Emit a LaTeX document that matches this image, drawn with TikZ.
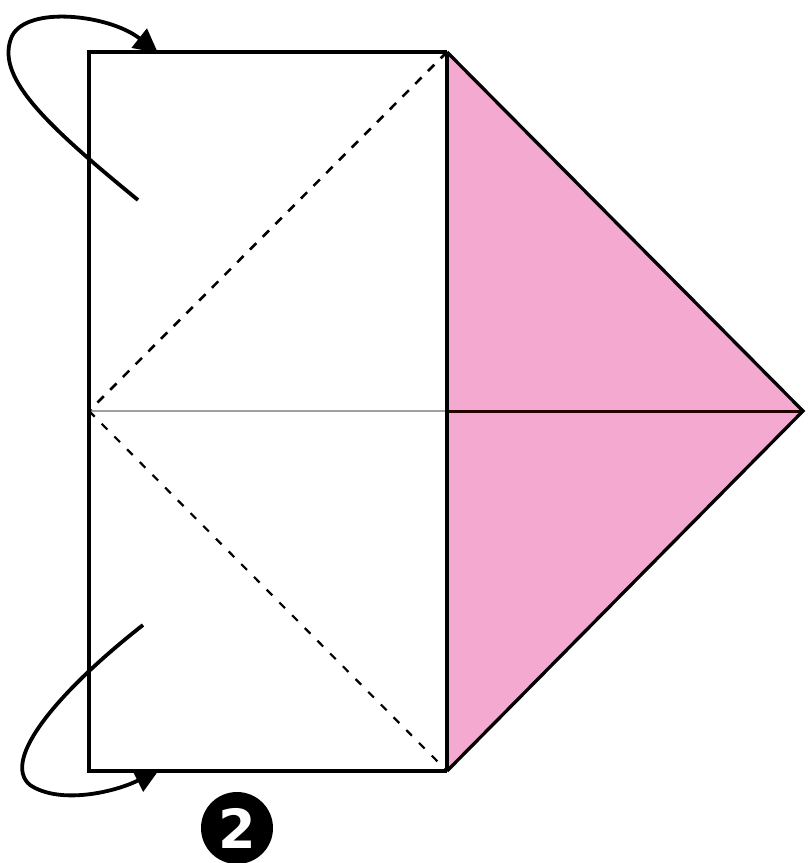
\documentclass[tikz,border=0pt]{standalone}
\usepackage{fontspec}
\newfontfamily\badgefont{DejaVu Sans}
\usetikzlibrary{arrows.meta}
\definecolor{paperpink}{RGB}{244,170,208}
\definecolor{midgrey}{RGB}{160,160,160}
\tikzset{
  edge/.style={line width=3.3pt, line join=miter},
  fold/.style={line width=2.6pt, dash pattern=on 9pt off 9pt},
  foldthin/.style={line width=2.2pt, dash pattern=on 8pt off 10pt},
  turn/.style={line width=3.8pt, -{Triangle[length=24pt,width=24pt]}},
  badge/.style={circle, fill=black, minimum size=72pt, inner sep=0pt, text=white, font=\badgefont\bfseries\fontsize{54}{54}\selectfont}
}
\begin{document}
\begin{tikzpicture}[x=1pt,y=-1pt]
\useasboundingbox (0,0) rectangle (807,863);
\coordinate (TL) at (89,52);
\coordinate (TR) at (447,52);
\coordinate (BL) at (89,771);
\coordinate (BR) at (447,771);
\coordinate (ML) at (89,411);
\coordinate (MR) at (447,411);
\coordinate (TIP) at (803,411);
% pink flap
\fill[paperpink] (TR) -- (TIP) -- (BR) -- cycle;
% middle lines
\draw[midgrey, line width=2.5pt] (ML) -- (MR);
\draw[black!85!red, line width=3pt] (MR) -- (TIP);
% dashed folds
\draw[fold] (TR) -- (ML);
\draw[foldthin] (ML) -- (BR);
% outline
\draw[edge] (TR) -- (TL) -- (BL) -- (BR);
\draw[edge] (TR) -- (BR);
\draw[edge] (TR) -- (TIP) -- (BR);
% turn-over arrows
\coordinate (a1s) at (138,200);
\coordinate (a1e) at (158,53);
\draw[turn] (a1s) .. controls (40,120) and (-5,75) .. (12,36) .. controls (28,5) and (110,15) .. (a1e);
\coordinate (a2s) at (143,625);
\coordinate (a2e) at (159,770);
\draw[turn] (a2s) .. controls (60,690) and (0,760) .. (30,785) .. controls (60,805) and (115,792) .. (a2e);
% step number
\node[badge] (num) at (237,828) {2};
\end{tikzpicture}
\end{document}
